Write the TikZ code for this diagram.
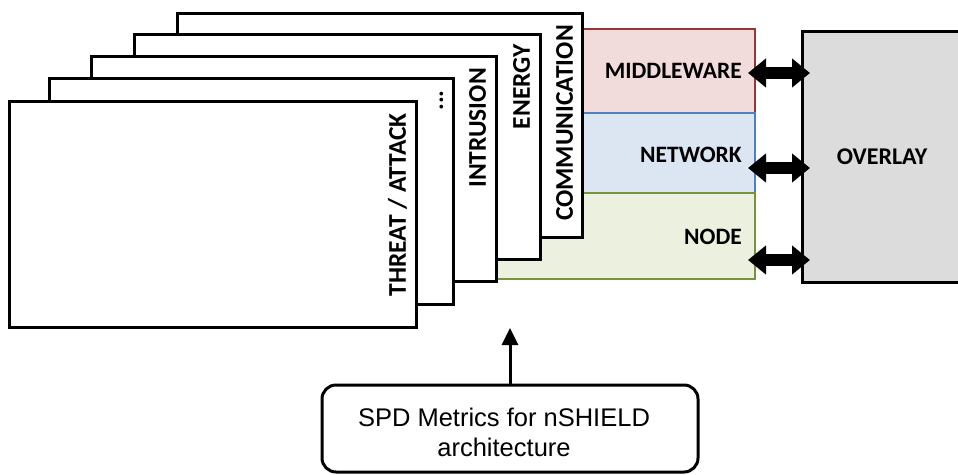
\documentclass[tikz,border=0pt]{standalone}
\usepackage{fontspec}
\setmainfont{Liberation Sans}
\newfontfamily\calib{Carlito}
\usetikzlibrary{arrows.meta,calc}

\definecolor{mwfill}{HTML}{F2DCDB}
\definecolor{mwline}{HTML}{953735}
\definecolor{nwfill}{HTML}{DCE6F2}
\definecolor{nwline}{HTML}{4F81BD}
\definecolor{ndfill}{HTML}{EBF1DE}
\definecolor{ndline}{HTML}{77933C}
\definecolor{ovfill}{HTML}{DCDCDC}

\begin{document}
\begin{tikzpicture}[x=1pt,y=-1pt,
  card/.style={draw=black, fill=white, line width=2.5pt, anchor=north west, inner sep=0pt},
  cardlabel/.style={rotate=90, anchor=east, inner sep=0pt,
    font=\calib\bfseries\fontsize{25.5}{26}\selectfont},
  layer/.style={line width=2pt, anchor=north west, inner sep=0pt, minimum width=274pt},
  layerlabel/.style={anchor=east, inner sep=0pt,
    font=\calib\bfseries\fontsize{23.5}{24}\selectfont},
  link/.style={line width=12pt,
    {Triangle[length=18pt,width=28pt]}-{Triangle[length=18pt,width=28pt]}},
  callout/.style={draw=black, line width=3pt, rounded corners=14pt,
    minimum width=376pt, minimum height=87pt, inner sep=0pt},
  callouttext/.style={align=center, inner sep=0pt,
    font=\fontsize{25.5}{30}\selectfont}
]
\useasboundingbox (0,0) rectangle (958,474);

% protocol layers (drawn first, the metric cards overlap their left part)
\node[layer, fill=mwfill, draw=mwline, minimum height=84pt] (mw) at (480,28) {};
\node[layer, fill=nwfill, draw=nwline, minimum height=80pt] (nw) at (480,112) {};
\node[layer, fill=ndfill, draw=ndline, minimum height=86pt] (nd) at (480,192) {};
\node[layerlabel] (mwl) at (742,71) {MIDDLEWARE};
\node[layerlabel] (nwl) at (742,155) {NETWORK};
\node[layerlabel] (ndl) at (742,237) {NODE};

% stack of metric cards, back to front
\node[card, minimum width=405pt, minimum height=224pt] (c5) at (176,12) {};
\node[cardlabel] (l5) at ($(c5.north east)+(-19,13)$) {COMMUNICATION};
\node[card, minimum width=406pt, minimum height=225pt] (c4) at (133,33) {};
\node[cardlabel] (l4) at ($(c4.north east)+(-20,11)$) {ENERGY};
\node[card, minimum width=405pt, minimum height=225pt] (c3) at (90,55) {};
\node[cardlabel] (l3) at ($(c3.north east)+(-20,13)$) {INTRUSION};
\node[card, minimum width=404pt, minimum height=226pt] (c2) at (48,77) {};
\node[cardlabel] (l2) at ($(c2.north east)+(-13,13)$) {...};
\node[card, minimum width=407pt, minimum height=226pt] (c1) at (8,100) {};
\node[cardlabel] (l1) at ($(c1.north east)+(-20,13)$) {THREAT / ATTACK};

% overlay block, running off the right edge
\node[draw=black, fill=ovfill, line width=2.5pt, anchor=north west, inner sep=0pt,
  minimum width=220pt, minimum height=251pt] (ov) at (801,30) {};
\node[layerlabel, anchor=center, font=\calib\bfseries\fontsize{24}{24}\selectfont]
  (ovl) at (882,157) {OVERLAY};

% two-way links between the layers and the overlay
\coordinate (a1) at (748,73);  \coordinate (b1) at (810,73);
\coordinate (a2) at (748,168); \coordinate (b2) at (810,168);
\coordinate (a3) at (748,260); \coordinate (b3) at (810,260);
\draw[link] (a1) -- (b1);
\draw[link] (a2) -- (b2);
\draw[link] (a3) -- (b3);

% callout
\node[callout] (spd) at (510,428.5) {};
\node[callouttext] (spdt) at (504,432.5) {SPD Metrics for nSHIELD\\architecture};
\coordinate (tip) at (510,328);
\draw[line width=3pt, -{Triangle[length=17pt,width=16pt]}] (tip |- spd.north) -- (tip);
\end{tikzpicture}
\end{document}
